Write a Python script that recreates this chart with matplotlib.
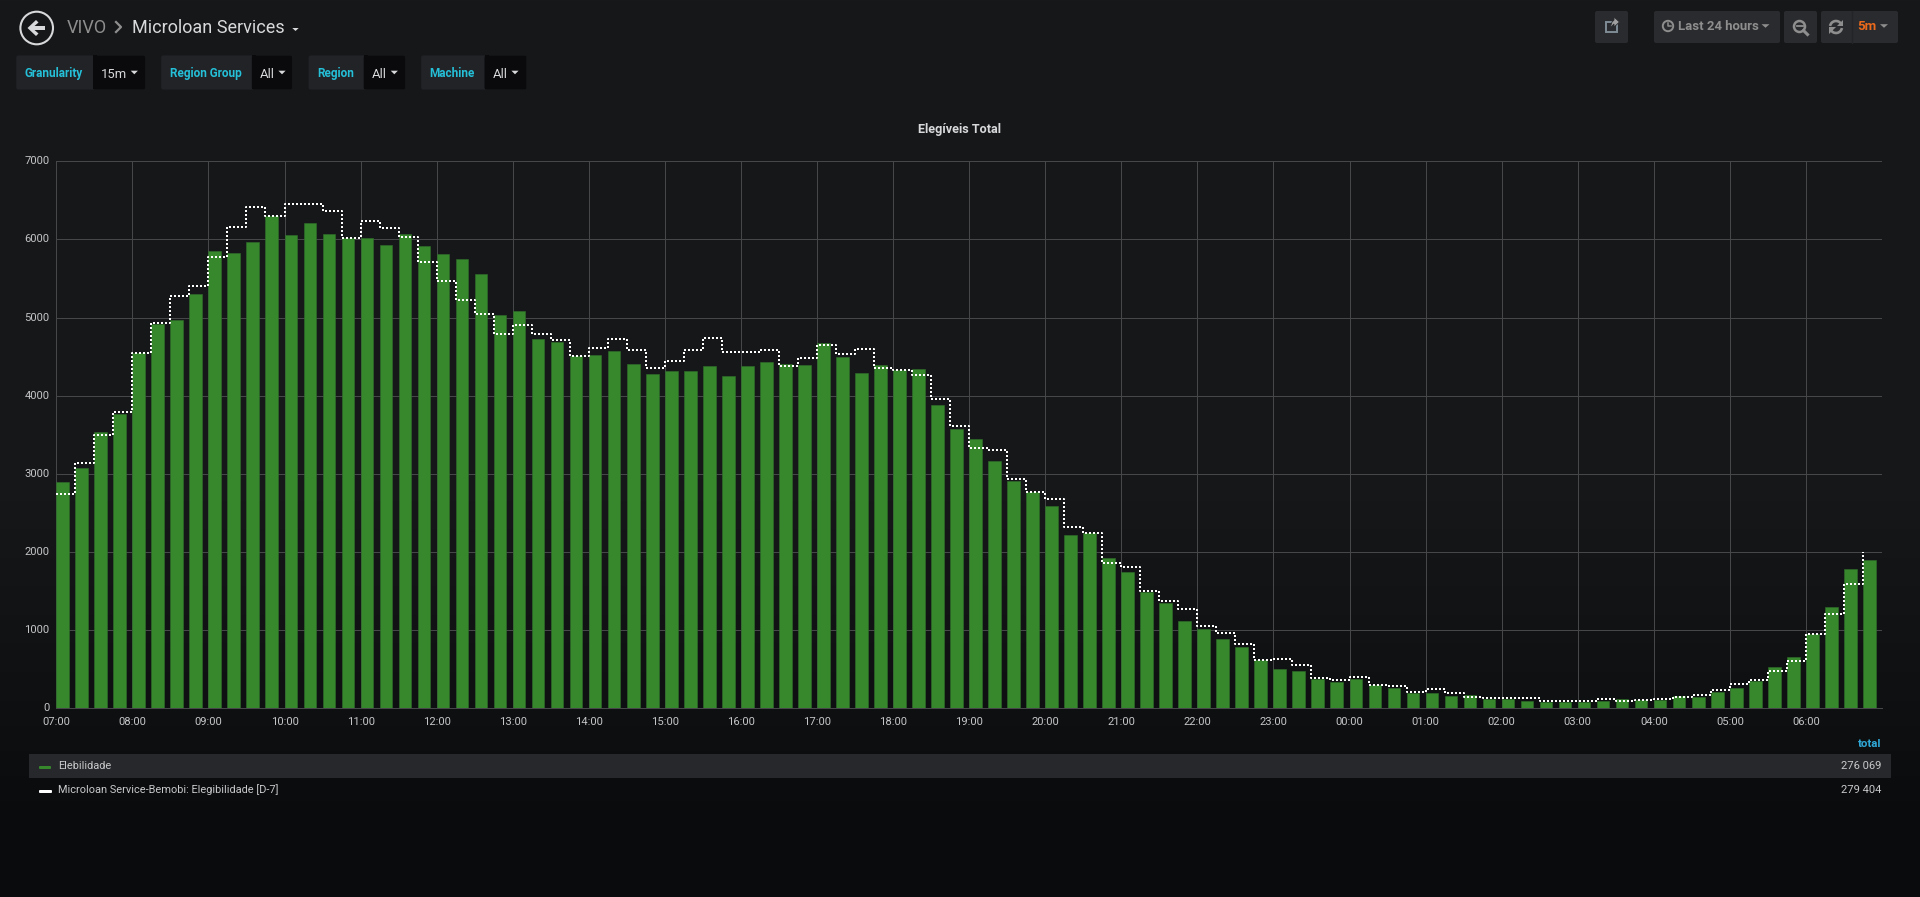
import matplotlib as mpl
mpl.use("Agg")
import matplotlib.pyplot as plt
import matplotlib.dates as mdates
import matplotlib.transforms as mtransforms
from matplotlib.patches import Circle, FancyBboxPatch, Polygon, Rectangle, Arc
import numpy as np
import pandas as pd

W, H = 1920, 897
plt.rcParams['font.family'] = ['Roboto', 'DejaVu Sans']

# values, one per 15 minutes from 07:00
elegibilidade = [2893, 3077, 3538, 3761, 4547, 4923, 4974, 5308, 5850, 5821, 5970, 6303,
                 6051, 6205, 6064, 6013, 6013, 5932, 6064, 5919, 5808, 5752, 5556, 5038,
                 5081, 4731, 4692, 4509, 4517, 4573, 4402, 4282, 4312, 4316, 4376, 4256,
                 4385, 4436, 4410, 4393, 4675, 4500, 4295, 4397, 4329, 4346, 3876, 3577,
                 3444, 3171, 2911, 2766, 2583, 2221, 2242, 1918, 1739, 1483, 1343, 1121,
                 1010, 891, 780, 614, 507, 479, 372, 333, 372, 299, 261, 201,
                 197, 162, 167, 124, 120, 98, 81, 81, 85, 98, 115, 103,
                 111, 162, 145, 209, 261, 355, 523, 660, 945, 1294, 1779, 1902]
d7 = [2744, 3145, 3500, 3791, 4551, 4927, 5282, 5402, 5769, 6154, 6415, 6303,
      6453, 6453, 6363, 6013, 6239, 6150, 6034, 5705, 5474, 5222, 5043, 4791,
      4902, 4786, 4709, 4509, 4615, 4722, 4581, 4359, 4444, 4585, 4735, 4560,
      4560, 4585, 4376, 4483, 4645, 4538, 4603, 4355, 4329, 4261, 3953, 3607,
      3333, 3303, 2928, 2771, 2681, 2315, 2242, 1858, 1812, 1496, 1377, 1275,
      1053, 963, 823, 622, 628, 551, 385, 368, 402, 299, 291, 214,
      244, 201, 145, 137, 132, 132, 94, 94, 98, 124, 94, 107,
      120, 141, 167, 231, 316, 363, 477, 600, 945, 1204, 1587, 2004]
y_ticks = [0, 1000, 2000, 3000, 4000, 5000, 6000, 7000]
series_names = ["Elebilidade", "Microloan Service-Bemobi: Elegibilidade [D-7]"]
series_totals = ["276 069", "279 404"]

GREEN = "#37872d"
TEXT = "#d8d9da"
CYAN = "#25c0d8"
times = pd.date_range("2019-01-01 07:00", periods=len(elegibilidade), freq="15min")

fig = plt.figure(figsize=(W / 100, H / 100), dpi=100)

# page background, a vertical gradient
bg = fig.add_axes([0, 0, 1, 1], zorder=0)
rows = np.arange(H)
grad = np.stack([np.interp(rows, [0, 500, 700, 800, 897], c) for c in
                 ([23, 22, 15, 11, 10], [24, 23, 16, 12, 11], [26, 25, 18, 14, 13])], axis=1)
bg.imshow(grad[:, None, :] / 255, aspect="auto", extent=[0, W, H, 0])
bg.set_xlim(0, W)
bg.set_ylim(H, 0)
bg.axis("off")

def box(x0, y0, x1, y1, color, r=2):
    bg.add_patch(FancyBboxPatch((x0 + r, y0 + r), x1 - x0 - 2 * r, y1 - y0 - 2 * r,
                                boxstyle="round,pad=%d,rounding_size=%d" % (r, r),
                                fc=color, ec="none"))

def caret(x, y, color=TEXT, w=3.8, h=3.8):
    bg.add_patch(Polygon([(x - w, y - h / 2), (x + w, y - h / 2), (x, y + h / 2)], fc=color, ec="none"))

def label(x, y, s, size=11, color=TEXT, ha="left", weight="normal"):
    bg.text(x, y + 1, s, fontsize=size * 0.72, color=color, ha=ha, va="center", weight=weight)

# back button and breadcrumb
bg.add_patch(Circle((36.7, 28), 16.3, fc="none", ec=TEXT, lw=1.5))
bg.add_patch(Polygon([(27.5, 28), (36, 20), (38.5, 22.5), (34.5, 26), (45, 26), (45, 30),
                      (34.5, 30), (38.5, 33.5), (36, 36)], fc=TEXT, ec="none"))
label(67, 27, "VIVO", 18, "#8e8e8e")
bg.plot([116, 121, 116], [22, 27, 32], color="#8e8e8e", lw=1.6)
label(132.5, 27, "Microloan Services", 18, TEXT)
caret(295.5, 29.5, TEXT, 3.2, 3)

# template variables: label, label box, value box, end, value, value x, caret x
filters = [("Granularity", 16.3, 93, 145.3, "15m", 100.8, 134.3),
           ("Region Group", 161.2, 251.8, 292.2, "All", 259.6, 282),
           ("Region", 308.6, 363.7, 405.3, "All", 372, 394.3),
           ("Machine", 421.2, 484.5, 526.5, "All", 493, 515)]
for name, x0, x1, x2, value, vx, cx in filters:
    box(x0, 55.5, x2, 89.5, "#212327")
    box(x1, 55.5, x2, 89.5, "#0a0a0c")
    bg.add_patch(Rectangle((x1, 55.5), 4, 34, fc="#0a0a0c", ec="none"))
    label(x0 + 8.3, 72.5, name, 11.7, CYAN, weight="bold")
    label(vx, 73, value, 13, TEXT)
    caret(cx, 72.5, TEXT, 3.6, 3.6)

# top right buttons
BTN = "#2a2b2e"
GREY = "#8e8e8e"
box(1595, 11, 1628, 43, BTN)
box(1654, 11, 1780, 43, BTN)
box(1784, 11, 1817, 43, BTN)
box(1821, 11, 1898, 43, BTN)
bg.plot([1851.5, 1851.5], [11, 43], color="#232427", lw=1)
# share icon
bg.add_patch(Rectangle((1605.5, 22), 11, 10.5, fc="none", ec="#7f8c96", lw=1.4))
bg.add_patch(Polygon([(1610, 28), (1612, 22), (1614, 20), (1614, 17), (1619.5, 22), (1614, 27), (1614, 24)],
                     fc="#a0a0a0", ec=BTN, lw=0.6, zorder=3))
# clock
bg.add_patch(Circle((1668, 26), 5.2, fc="none", ec=GREY, lw=1.4))
bg.plot([1668, 1668, 1671], [23, 26.5, 26.5], color=GREY, lw=1.1)
label(1678, 26, "Last 24 hours", 13.1, GREY, weight="bold")
caret(1765.5, 26, GREY, 4, 3.6)
# zoom out
bg.add_patch(Circle((1799.5, 26.5), 5.5, fc="none", ec=GREY, lw=1.8))
bg.plot([1796.5, 1802.5], [26.5, 26.5], color=GREY, lw=1.3)
bg.plot([1803.5, 1807.5], [30.5, 34.5], color=GREY, lw=2.2)
# refresh
bg.add_patch(Arc((1836, 27), 12, 12, theta1=190, theta2=330, ec=GREY, lw=1.9))
bg.add_patch(Arc((1836, 27), 12, 12, theta1=10, theta2=150, ec=GREY, lw=1.9))
bg.add_patch(Polygon([(1843, 20), (1843, 26.5), (1836.5, 26.5)], fc=GREY, ec="none"))
bg.add_patch(Polygon([(1829, 34), (1829, 27.5), (1835.5, 27.5)], fc=GREY, ec="none"))
label(1857, 26, "5m", 13.2, "#eb6a1c", weight="bold")
caret(1884, 26, GREY, 4, 3.6)

# panel title and legend
bg.text(959.5, 130, "Elegíveis Total", fontsize=12.6 * 0.72, color=TEXT, ha="center", va="center", weight="bold")
label(1881, 743, "total", 11.5, "#2fa8d8", ha="right", weight="bold")
bg.add_patch(Rectangle((29, 754), 1862, 24, fc="#27282b", ec="none"))
box(39, 766, 51, 769, GREEN, r=1)
box(39, 790, 52, 793, "#ffffff", r=1)
label(58, 765, series_names[0], 11.05, "#c8c9ca")
label(58.5, 789, series_names[1], 11.05, "#c8c9ca")
label(1881, 765, series_totals[0], 11.2, "#c8c9ca", ha="right")
label(1881, 789, series_totals[1], 11.2, "#c8c9ca", ha="right")

# the chart itself
ax = fig.add_axes([56.3 / W, 1 - 708.3 / H, (1882 - 56.3) / W, (708.3 - 161.3) / H], zorder=1)
ax.patch.set_alpha(0)
ax.bar(times, elegibilidade, width=pd.Timedelta(minutes=10), align="edge", color=GREEN,
       edgecolor="#2f6f29", linewidth=0.4, zorder=2)
ax.plot(times, d7, drawstyle="steps-post", color="white", lw=1.44,
        linestyle=(0, (1, 1)), zorder=3)
ax.set_xlim(times[0], times[0] + pd.Timedelta(hours=24))
ax.set_ylim(0, 7000)
ax.set_yticks(y_ticks)
ax.set_xticks(times[::4])
ax.xaxis.set_major_formatter(mdates.DateFormatter("%H:%M"))
ax.grid(True, color="#464749", linewidth=0.72, zorder=1)
ax.set_axisbelow(True)
ax.tick_params(axis="both", length=0, labelsize=11.2 * 0.72, labelcolor="#c4c5c6")
ax.tick_params(axis="x", pad=6.5)
ax.tick_params(axis="y", pad=5)
for t in ax.get_yticklabels():
    # y labels sit a pixel above their grid line
    t.set_transform(t.get_transform() + mtransforms.ScaledTranslation(0, 1 / 100, fig.dpi_scale_trans))
for s in ["top", "right", "left"]:
    ax.spines[s].set_visible(False)
ax.spines["bottom"].set_color("#464749")
ax.spines["bottom"].set_linewidth(0.72)

fig.savefig("out.png", dpi=100, facecolor="#161719")
